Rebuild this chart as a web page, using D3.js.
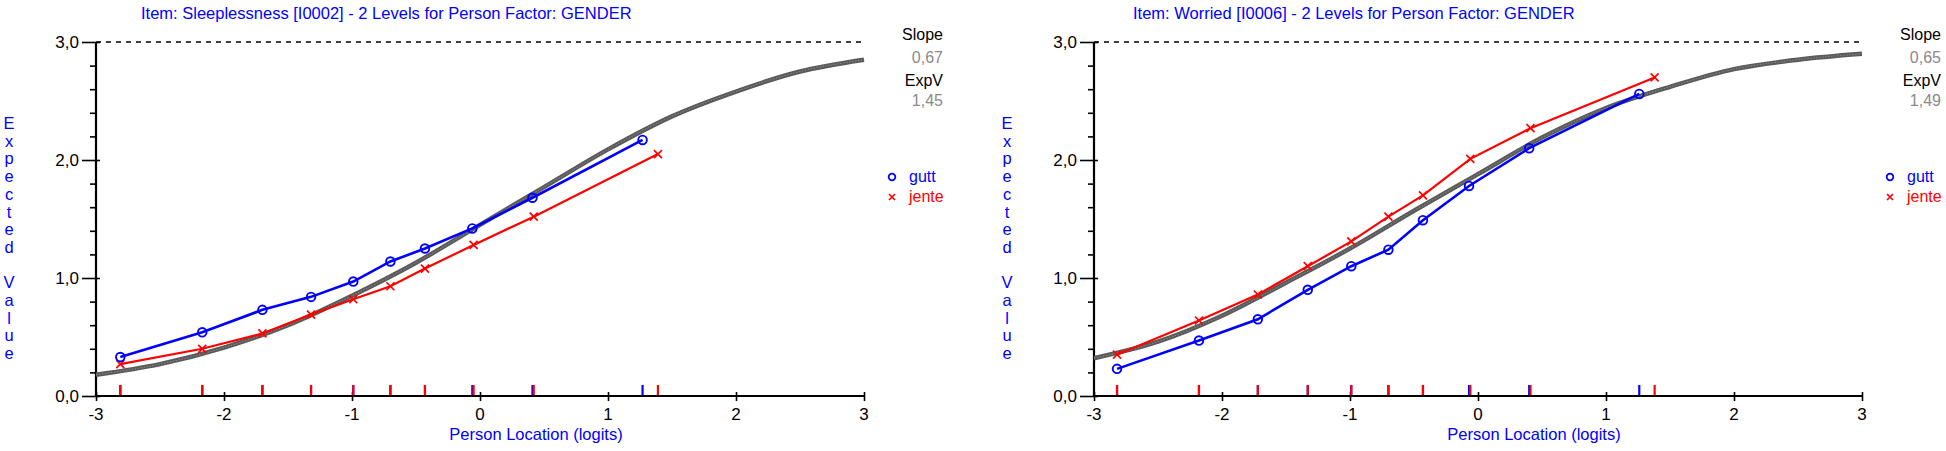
<!DOCTYPE html>
<html>
<head>
<meta charset="utf-8">
<script src="https://cdn.jsdelivr.net/npm/d3@7"></script>
<style>
  body { margin: 0; background: #fff; }
  svg { display: block; font-family: "Liberation Sans", Arial, sans-serif; }
</style>
</head>
<body>
<svg id="chart"></svg>
<script>
// --- data ---
const yTicks = [0, 1, 2, 3];
const xTicks = [-3, -2, -1, 0, 1, 2, 3];
const groups = ['gutt', 'jente'];

// panel 1: Sleeplessness
const sleepTitle = 'Item: Sleeplessness [I0002] - 2 Levels for Person Factor: GENDER';
const sleepSlope = '0,67';
const sleepExpV = '1,45';
const sleepCurveX = [-3, -2.5, -2, -1.5, -1, -0.5, 0, 0.5, 1, 1.5, 2, 2.5, 3];
const sleepCurveY = [0.18, 0.27, 0.41, 0.60, 0.85, 1.13, 1.45, 1.77, 2.09, 2.37, 2.58, 2.75, 2.85];
const sleepGuttX = [-2.81, -2.17, -1.70, -1.32, -0.99, -0.70, -0.43, -0.06, 0.41, 1.27];
const sleepGuttY = [0.33, 0.54, 0.73, 0.84, 0.97, 1.14, 1.25, 1.42, 1.68, 2.17];
const sleepJenteX = [-2.81, -2.17, -1.70, -1.32, -0.99, -0.70, -0.43, -0.05, 0.42, 1.39];
const sleepJenteY = [0.27, 0.40, 0.53, 0.69, 0.82, 0.93, 1.08, 1.28, 1.52, 2.05];

// panel 2: Worried
const worryTitle = 'Item: Worried [I0006] - 2 Levels for Person Factor: GENDER';
const worrySlope = '0,65';
const worryExpV = '1,49';
const worryCurveX = [-3, -2.5, -2, -1.5, -1, -0.5, 0, 0.5, 1, 1.5, 2, 2.5, 3];
const worryCurveY = [0.32, 0.46, 0.68, 0.96, 1.25, 1.57, 1.88, 2.19, 2.44, 2.62, 2.77, 2.85, 2.90];
const worryGuttX = [-2.82, -2.18, -1.72, -1.33, -0.99, -0.70, -0.43, -0.07, 0.40, 1.26];
const worryGuttY = [0.23, 0.47, 0.65, 0.90, 1.10, 1.24, 1.49, 1.78, 2.10, 2.56];
const worryJenteX = [-2.82, -2.18, -1.72, -1.33, -0.99, -0.70, -0.43, -0.06, 0.41, 1.38];
const worryJenteY = [0.35, 0.64, 0.86, 1.10, 1.31, 1.52, 1.70, 2.01, 2.27, 2.70];

const width = 1946, height = 451;
const blue = '#0000ff', red = '#ff0000';
const fs = 16.5;

const svg = d3.select('#chart')
  .attr('width', width)
  .attr('height', height);

function drawPanel(ox, p) {
  const g = svg.append('g').attr('transform', 'translate(' + ox + ',0)');

  const x = d3.scaleLinear().domain([-3, 3]).range([96, 864]);
  const y = d3.scaleLinear().domain([0, 3]).range([396, 42]);

  // title
  g.append('text')
    .attr('x', p.titleX).attr('y', 18.5)
    .attr('fill', blue).attr('font-size', fs)
    .text(p.title);

  // vertical axis label, stacked letters
  const label = 'Expected Value'.split('');
  g.append('g').selectAll('text')
    .data(label)
    .join('text')
    .attr('x', 9).attr('y', (d, i) => 129 + i * 17.7)
    .attr('text-anchor', 'middle')
    .attr('fill', blue).attr('font-size', fs)
    .text(d => d);

  // y axis
  const yAxis = d3.axisLeft(y)
    .tickValues(d3.range(0, 3.001, 0.2))
    .tickSize(6)
    .tickFormat('');
  const ya = g.append('g').attr('transform', 'translate(' + x(-3) + ',0)').call(yAxis);
  ya.select('.domain').attr('stroke-width', 2.2).attr('d', 'M0,' + y(0) + 'V' + y(3));
  ya.selectAll('.tick line').attr('stroke-width', 1.6);
  ya.selectAll('.tick')
    .filter(d => Math.abs(d - Math.round(d)) < 1e-6)
    .select('line').attr('x1', 4).attr('x2', -14);
  g.append('g').selectAll('text')
    .data(yTicks)
    .join('text')
    .attr('x', 79).attr('y', d => y(d) + 5.5)
    .attr('text-anchor', 'end')
    .attr('font-size', 17)
    .text(d => d3.format('.1f')(d).replace('.', ','));

  // x axis
  const xAxis = d3.axisBottom(x).tickValues(xTicks).tickSize(5).tickFormat('');
  const xa = g.append('g').attr('transform', 'translate(0,' + y(0) + ')').call(xAxis);
  xa.select('.domain').attr('stroke-width', 2.2).attr('d', 'M' + x(-3) + ',0H' + x(3));
  xa.selectAll('.tick line').attr('stroke-width', 1.6).attr('y1', -4);
  g.append('g').selectAll('text')
    .data(xTicks)
    .join('text')
    .attr('x', d => x(d)).attr('y', 420)
    .attr('text-anchor', 'middle')
    .attr('font-size', 17)
    .text(d => d);
  g.append('text')
    .attr('x', 536).attr('y', 440)
    .attr('text-anchor', 'middle')
    .attr('fill', blue).attr('font-size', fs)
    .text('Person Location (logits)');

  // max score line
  g.append('line')
    .attr('x1', x(-3)).attr('x2', x(3))
    .attr('y1', y(3)).attr('y2', y(3))
    .attr('stroke', '#000').attr('stroke-width', 1.5)
    .attr('stroke-dasharray', '5,5');

  // class interval locations along the x axis
  const locs = [
    { xs: p.guttX, c: blue },
    { xs: p.jenteX, c: red }
  ];
  locs.forEach(l => {
    g.append('g').selectAll('line')
      .data(l.xs)
      .join('line')
      .attr('x1', d => x(d)).attr('x2', d => x(d))
      .attr('y1', y(0) - 1).attr('y2', y(0) - 11)
      .attr('stroke', l.c).attr('stroke-width', 2.2);
  });

  // model expected value curve
  const line = d3.line().x(d => x(d[0])).y(d => y(d[1])).curve(d3.curveMonotoneX);
  g.append('path')
    .datum(d3.zip(p.curveX, p.curveY))
    .attr('fill', 'none')
    .attr('stroke', '#5a5a5a').attr('stroke-width', 4.5)
    .attr('d', line);
  g.append('path')
    .datum(d3.zip(p.curveX, p.curveY))
    .attr('fill', 'none')
    .attr('stroke', '#8a8a8a').attr('stroke-width', 1)
    .attr('stroke-dasharray', '1.5,1.5')
    .attr('d', line);

  // observed means
  const straight = d3.line().x(d => x(d[0])).y(d => y(d[1]));
  const jente = d3.zip(p.jenteX, p.jenteY);
  const gutt = d3.zip(p.guttX, p.guttY);

  g.append('path').datum(jente)
    .attr('fill', 'none').attr('stroke', red).attr('stroke-width', 2.2)
    .attr('d', straight);
  g.append('g').selectAll('path')
    .data(jente)
    .join('path')
    .attr('transform', d => 'translate(' + x(d[0]) + ',' + y(d[1]) + ')')
    .attr('d', 'M-4,-4L4,4M-4,4L4,-4')
    .attr('stroke', red).attr('stroke-width', 1.7);

  g.append('path').datum(gutt)
    .attr('fill', 'none').attr('stroke', blue).attr('stroke-width', 2.6)
    .attr('d', straight);
  g.append('g').selectAll('circle')
    .data(gutt)
    .join('circle')
    .attr('cx', d => x(d[0])).attr('cy', d => y(d[1]))
    .attr('r', 4.3)
    .attr('fill', 'none').attr('stroke', blue).attr('stroke-width', 1.9);

  // slope / expected value box
  const info = [
    { t: 'Slope', c: '#000', yy: 40 },
    { t: p.slope, c: '#8a8a8a', yy: 63 },
    { t: 'ExpV', c: '#000', yy: 86 },
    { t: p.expv, c: '#8a8a8a', yy: 106 }
  ];
  g.append('g').selectAll('text')
    .data(info)
    .join('text')
    .attr('x', 943).attr('y', d => d.yy)
    .attr('text-anchor', 'end')
    .attr('fill', d => d.c).attr('font-size', 16)
    .text(d => d.t);

  // legend
  const leg = g.append('g').selectAll('g')
    .data(groups)
    .join('g')
    .attr('transform', (d, i) => 'translate(892,' + (177 + i * 20) + ')');
  leg.filter(d => d === 'gutt').append('circle')
    .attr('r', 3.3).attr('fill', 'none')
    .attr('stroke', blue).attr('stroke-width', 1.8);
  leg.filter(d => d === 'jente').append('path')
    .attr('d', 'M-3,-3L3,3M-3,3L3,-3')
    .attr('stroke', red).attr('stroke-width', 1.6);
  leg.append('text')
    .attr('x', 17).attr('y', 5)
    .attr('fill', d => d === 'gutt' ? blue : red)
    .attr('font-size', 16)
    .text(d => d);
}

drawPanel(0, {
  title: sleepTitle, titleX: 141, slope: sleepSlope, expv: sleepExpV,
  curveX: sleepCurveX, curveY: sleepCurveY,
  guttX: sleepGuttX, guttY: sleepGuttY,
  jenteX: sleepJenteX, jenteY: sleepJenteY
});
drawPanel(998, {
  title: worryTitle, titleX: 135, slope: worrySlope, expv: worryExpV,
  curveX: worryCurveX, curveY: worryCurveY,
  guttX: worryGuttX, guttY: worryGuttY,
  jenteX: worryJenteX, jenteY: worryJenteY
});
</script>
</body>
</html>
